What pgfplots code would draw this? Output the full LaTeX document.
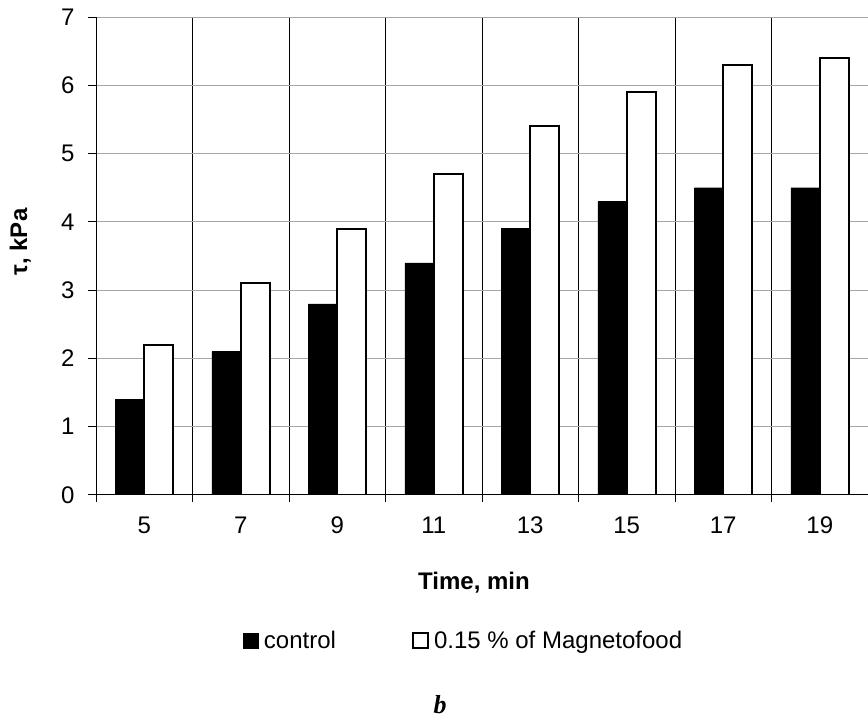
\documentclass[border=0pt]{standalone}
\usepackage{pgfplots}
\pgfplotsset{compat=1.18}
\usepackage{fontspec}
\setmainfont{Liberation Sans}
\newfontfamily\serifbi{Liberation Serif}
\newcommand\lbl{\fontsize{24}{28}\selectfont}
\begin{document}
\begin{tikzpicture}[x=1pt,y=1pt]
\useasboundingbox (0,0) rectangle (868,718);
\begin{axis}[
  at={(96pt,223pt)}, anchor=south west,
  scale only axis, width=772pt, height=478pt,
  xmin=-0.5, xmax=7.5, ymin=0, ymax=7,
  axis x line*=bottom, axis y line*=left,
  axis line style={black, line width=1pt},
  ytick={0,1,...,7},
  xtick={0,...,7},
  xticklabels={5,7,9,11,13,15,17,19},
  minor xtick={-0.5,0.5,...,7.5},
  xminorgrids=true, ymajorgrids=true,
  major grid style={gray!70, line width=1pt},
  minor grid style={black, line width=1pt},
  tick align=outside,
  major tick length=8pt,
  minor tick length=7pt,
  x tick style={draw=none},
  minor x tick style={draw=black, line width=1pt},
  y tick style={black, line width=1pt},
  tick label style={font=\lbl},
  /pgf/number format/assume math mode=true,
  xticklabel style={yshift=-10pt},
  yticklabel style={xshift=-10pt},
  ybar=0pt, bar width=0.3,
  legend columns=2,
  legend style={draw=none, fill=none, at={(0.476,-0.305)}, anchor=center, font=\lbl,
    /tikz/every even column/.append style={column sep=74pt}},
  legend image code/.code={\draw[#1] (0pt,-7pt) rectangle (15pt,8pt); \path[draw=none,fill=none] (0pt,0pt) -- (19pt,0pt);},
]
\addplot[fill=black, draw=black, bar shift=-0.15] coordinates {(0,1.4)(1,2.1)(2,2.8)(3,3.4)(4,3.9)(5,4.3)(6,4.5)(7,4.5)};
\addplot[fill=white, draw=black, line width=2.2pt, bar shift=0.15] coordinates {(0,2.2)(1,3.1)(2,3.9)(3,4.7)(4,5.4)(5,5.9)(6,6.3)(7,6.4)};
\legend{control, 0.15 \% of Magnetofood}
\end{axis}
\node[rotate=90, anchor=base, font=\lbl\bfseries] at (27,476) {τ, kPa};
\node[anchor=base, font=\lbl\bfseries] at (474,128) {Time, min};
\node[anchor=base, font=\fontsize{26}{30}\selectfont\serifbi\bfseries\itshape] at (440,5) {b};
\end{tikzpicture}
\end{document}
